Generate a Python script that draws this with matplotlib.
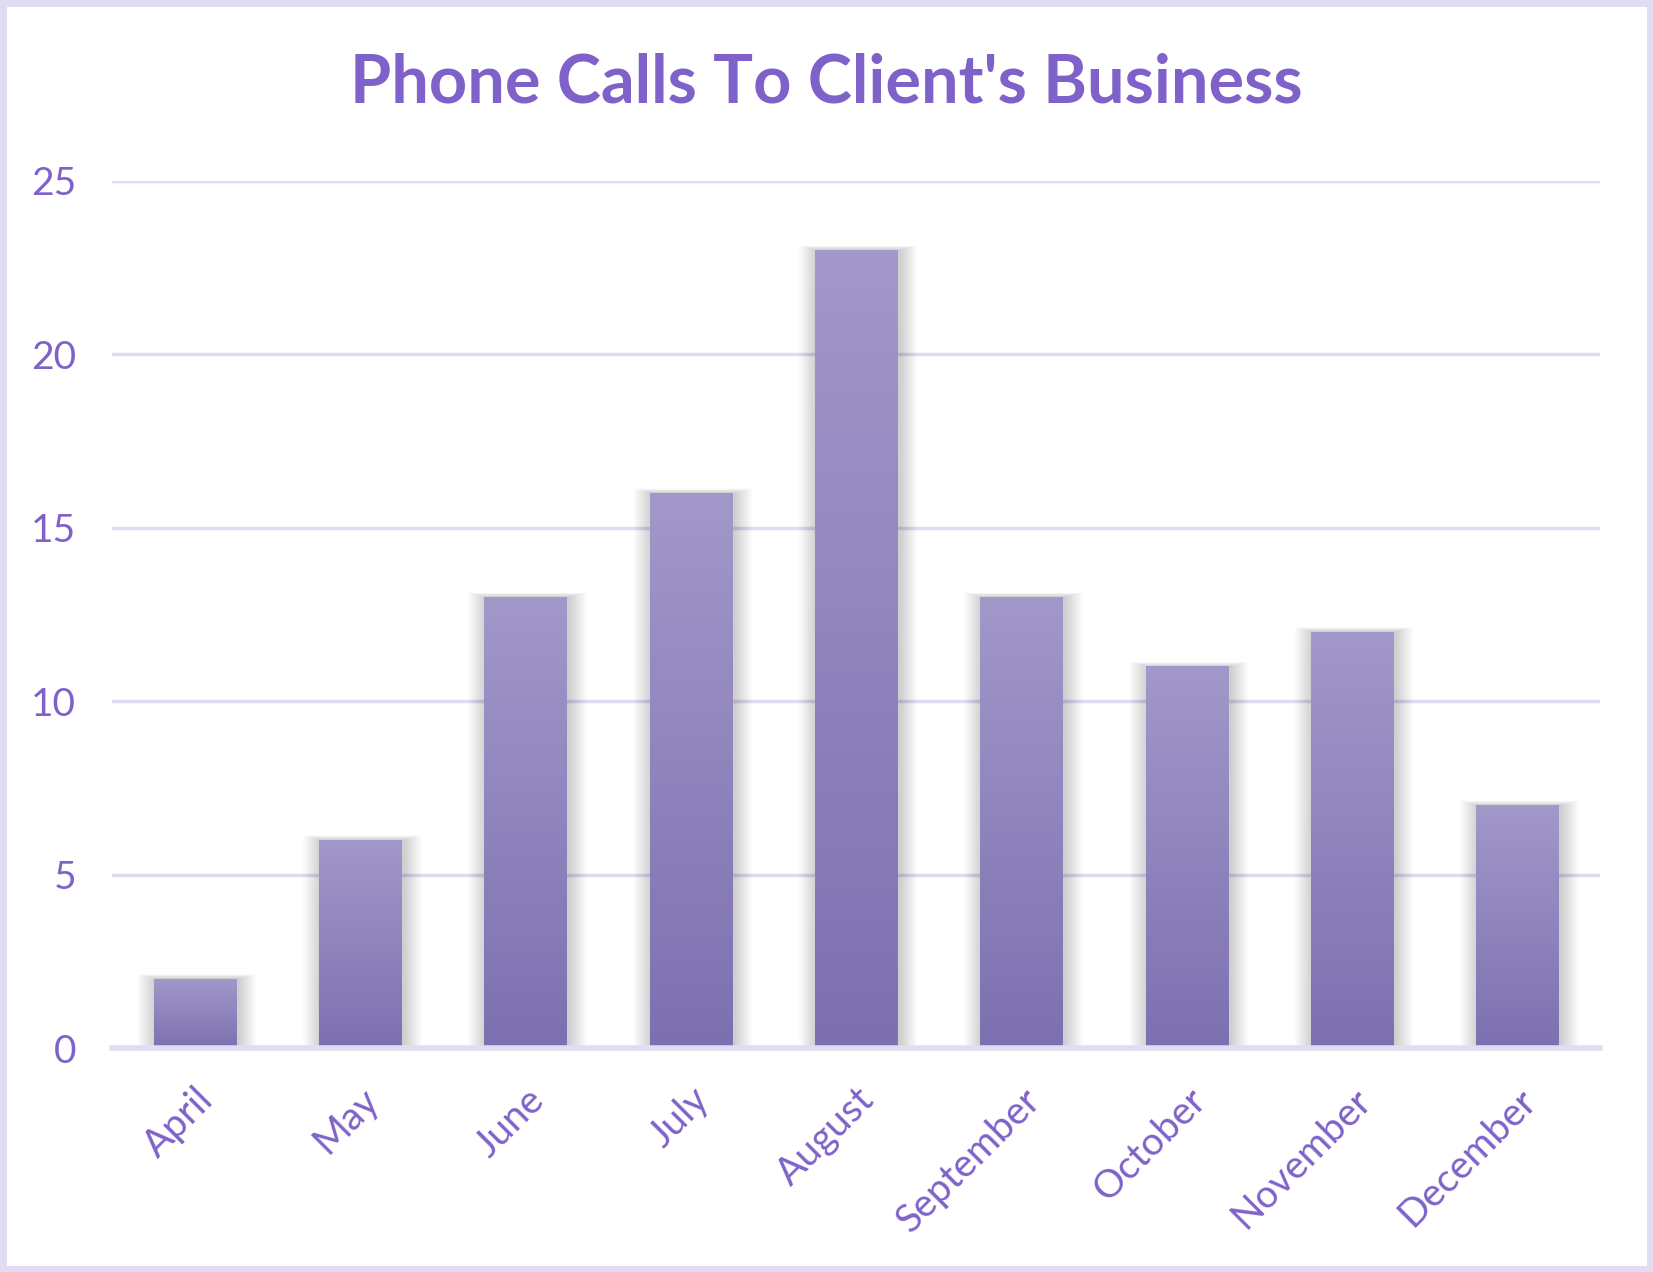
import numpy as np
import matplotlib
matplotlib.use("Agg")
import matplotlib.pyplot as plt
from matplotlib.patches import Rectangle

# data
months = ["April", "May", "June", "July", "August", "September", "October", "November", "December"]
calls = [2, 6, 13, 16, 23, 13, 11, 12, 7]
yticks = [0, 5, 10, 15, 20, 25]

text_col = "#7f62c9"
grid_col = "#e2dcf2"
top_col = np.array([0xa2, 0x98, 0xc9]) / 255
bot_col = np.array([0x7d, 0x70, 0xb1]) / 255

plt.rcParams["font.family"] = ["Lato", "DejaVu Sans"]

fig = plt.figure(figsize=(16.53, 12.72), dpi=100)
ax = fig.add_axes([0.068, 0.176, 0.9, 0.682])

x = np.arange(len(months))
w = 0.5

# gradient image used for every bar
grad = np.linspace(0, 1, 256)[:, None]
img = top_col[None, None, :] * (1 - grad[:, :, None]) + bot_col[None, None, :] * grad[:, :, None]

for xi, v in zip(x, calls):
    # soft shadow, a stack of faint rectangles
    for k in range(12):
        pad = 0.009 * (k + 1)
        ax.add_patch(Rectangle((xi - w / 2 - pad + 0.012, 0), w + 2 * pad, v + pad * 1.2,
                               facecolor="black", alpha=0.016, lw=0, zorder=2))
    rect = Rectangle((xi - w / 2, 0), w, v, facecolor="none", lw=0, zorder=3)
    ax.add_patch(rect)
    im = ax.imshow(img, extent=[xi - w / 2, xi + w / 2, 0, v], aspect="auto", zorder=3)
    im.set_clip_path(rect)

ax.set_xlim(-0.5, len(months) - 0.5)
ax.set_ylim(0, 25)

ax.set_yticks(yticks)
ax.set_yticklabels([str(t) for t in yticks])
ax.yaxis.grid(True, color=grid_col, lw=2.5, zorder=0)
ax.set_axisbelow(True)
ax.tick_params(axis="y", length=0, pad=26, labelsize=28, labelcolor=text_col)
ax.tick_params(axis="x", length=0, pad=24, labelsize=28, labelcolor=text_col)
ax.set_xticks(x)
ax.set_xticklabels(months, rotation=45, ha="right", rotation_mode="anchor")

for s in ["top", "right", "left"]:
    ax.spines[s].set_visible(False)
ax.spines["bottom"].set_color(grid_col)
ax.spines["bottom"].set_linewidth(4)
ax.spines["bottom"].set_zorder(4)

fig.text(0.5, 0.934, "Phone Calls To Client's Business", ha="center", va="center",
         fontsize=48, fontweight="bold", color=text_col)

# outer border
fig.patches.append(Rectangle((0.002, 0.002), 0.996, 0.996, transform=fig.transFigure,
                             fill=False, edgecolor=grid_col, lw=5))

fig.savefig("out.png", dpi=100)
